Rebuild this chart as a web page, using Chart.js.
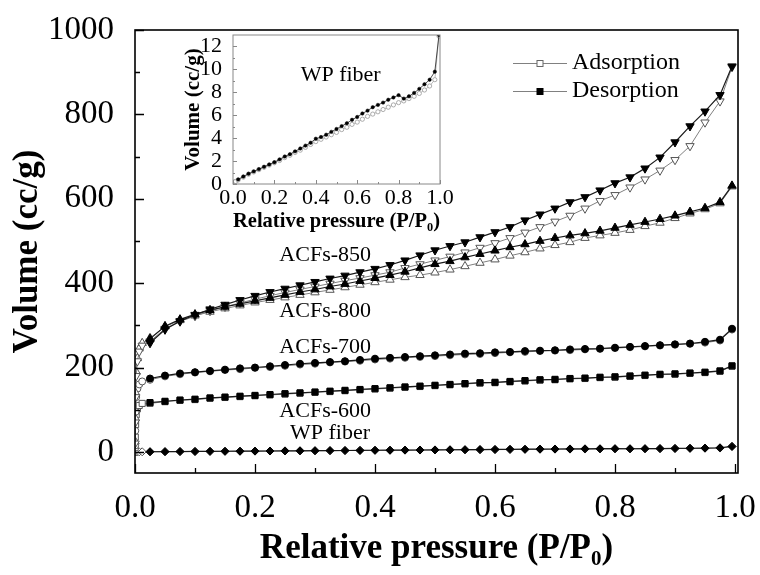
<!DOCTYPE html>
<html>
<head>
<meta charset="utf-8">
<script src="https://cdn.jsdelivr.net/npm/chart.js@4.4.1/dist/chart.umd.min.js"></script>
<style>
  html, body { margin: 0; padding: 0; background: #ffffff; }
  #wrap { position: relative; width: 760px; height: 575px; overflow: hidden; background:#fff; }
  #main { position: absolute; left: 0; top: 0; }
  #inset { position: absolute; left: 170px; top: 25px; }
</style>
</head>
<body>
<div id="wrap">
  <canvas id="main" width="760" height="575"></canvas>
  <canvas id="inset" width="290" height="215"></canvas>
</div>
<script>
// ---------------- DATA ----------------
const SAMPLES = ['ACFs-850', 'ACFs-800', 'ACFs-700', 'ACFs-600', 'WP fiber'];
const BRANCHES = ['Adsorption', 'Desorption'];

// relative pressure grid (P/P0)
const P_GRID = [0.025,0.05,0.075,0.1,0.125,0.15,0.175,0.2,0.225,0.25,0.275,0.3,0.325,0.35,0.375,0.4,
  0.425,0.45,0.475,0.5,0.525,0.55,0.575,0.6,0.625,0.65,0.675,0.7,0.725,0.75,0.775,0.8,0.825,0.85,
  0.875,0.9,0.925,0.95,0.975,0.995];
const P_LOW = [0.0002,0.0005,0.001,0.002,0.004,0.007,0.012];

// desorption branches (cc/g)
const ACF850_DES = [258,290,310,325,338,349,360,370,379,387,395,403,411,418,426,434,443,454,466,478,
  488,497,509,521,533,549,563,577,592,604,620,637,651,672,698,734,772,807,846,914];
const ACF800_DES = [268,298,314,326,336,344,351,358,365,372,379,385,392,398,405,412,419,427,436,445,
  452,461,469,477,485,492,500,507,513,518,524,531,538,545,552,560,569,578,592,631];
const ACF700_DES = [174,181,186,189,192,195,198,200,203,206,209,211,213,215,218,221,223,225,227,229,
  231,233,234,236,237,239,240,241,243,244,245,247,249,251,253,255,257,261,266,292];
const ACF600_DES = [117,120,123,125,128,130,132,134,136,138,140,142,144,146,148,150,152,154,156,158,
  160,162,164,165,167,169,171,172,174,175,177,178,180,182,184,185,187,189,192,204];
const WP_DES = [0.4,0.65,0.9,1.1,1.3,1.5,1.7,1.9,2.15,2.4,2.6,2.85,3.1,3.35,3.6,3.95,4.1,4.3,4.55,4.8,
  5.05,5.3,5.6,5.85,6.15,6.4,6.7,6.9,7.1,7.35,7.55,7.75,7.45,7.65,7.95,8.3,8.7,9.1,9.8,13.0];

// adsorption branches: low-pressure part + grid part (cc/g)
const ACF850_ADS_LOW = [20,70,130,180,215,238,252];
const ACF850_ADS = [262,292,309,322,334,344,353,362,370,378,385,392,399,406,412,419,426,436,445,454,
  463,473,484,495,507,520,533,546,560,577,595,609,627,646,667,692,725,781,831,912];
const ACF800_ADS_LOW = [25,80,140,190,222,245,258];
const ACF800_ADS = [270,297,312,323,332,340,347,354,360,366,372,378,384,390,396,402,408,414,419,425,
  432,440,448,456,465,473,482,490,497,507,513,519,526,535,543,554,565,575,589,629];
const ACF700_ADS_LOW = [15,50,95,130,150,160,167];
const ACF700_ADS = [171,179,184,188,191,194,196,199,201,204,207,209,212,214,216,219,221,223,225,227,
  229,231,232,234,236,237,239,240,241,243,244,246,248,250,252,254,256,259,264,290];
const ACF600_ADS_LOW = [10,35,65,88,102,110,115];
const ACF600_ADS = [115,119,122,124,127,129,131,133,135,137,139,141,143,145,147,149,151,153,155,157,
  159,161,163,164,166,168,170,171,173,174,176,177,179,181,183,184,186,188,191,203];
const WP_ADS_LOW = [0.05,0.08,0.1,0.12,0.15,0.18,0.22];
const WP_ADS = [0.35,0.6,0.85,1.05,1.25,1.45,1.65,1.85,2.05,2.3,2.5,2.75,2.95,3.2,3.45,3.7,3.9,4.1,4.3,4.5,
  4.75,4.95,5.2,5.4,5.65,5.9,6.1,6.3,6.5,6.7,6.9,7.1,7.25,7.45,7.65,7.9,8.2,8.55,9.1,12.9];

// ticks
const X_TICKS = [0, 0.2, 0.4, 0.6, 0.8, 1.0];
const X_MINOR = [0.1, 0.3, 0.5, 0.7, 0.9];
const Y_TICKS = [0, 200, 400, 600, 800, 1000];
const Y_MINOR = [100, 300, 500, 700, 900];
const IN_X_TICKS = [0, 0.2, 0.4, 0.6, 0.8, 1.0];
const IN_X_MINOR = [0.1, 0.3, 0.5, 0.7, 0.9];
const IN_Y_TICKS = [0, 2, 4, 6, 8, 10, 12];
const IN_Y_MINOR = [1, 3, 5, 7, 9, 11];

// ---------------- BUILD ----------------
const FONT = "'Liberation Serif', 'Times New Roman', serif";
Chart.defaults.font.family = FONT;
Chart.defaults.color = '#000';

const pts = (xs, ys) => xs.map((x, i) => ({x: x, y: ys[i]}));
const P_ADS = P_LOW.concat(P_GRID);

const DES = {'ACFs-850': ACF850_DES, 'ACFs-800': ACF800_DES, 'ACFs-700': ACF700_DES, 'ACFs-600': ACF600_DES, 'WP fiber': WP_DES};
const ADS = {'ACFs-850': ACF850_ADS_LOW.concat(ACF850_ADS), 'ACFs-800': ACF800_ADS_LOW.concat(ACF800_ADS),
  'ACFs-700': ACF700_ADS_LOW.concat(ACF700_ADS), 'ACFs-600': ACF600_ADS_LOW.concat(ACF600_ADS),
  'WP fiber': WP_ADS_LOW.concat(WP_ADS)};

const MARK = {
  'ACFs-850': {pointStyle: 'triangle', rot: 180, r: 4.8},
  'ACFs-800': {pointStyle: 'triangle', rot: 0, r: 4.8},
  'ACFs-700': {pointStyle: 'circle', rot: 0, r: 3.5},
  'ACFs-600': {pointStyle: 'rect', rot: 0, r: 4.3},
  'WP fiber': {pointStyle: 'rectRot', rot: 0, r: 4.0}
};

const datasets = [];
SAMPLES.forEach(s => {
  datasets.push({
    label: s + ' ' + BRANCHES[1], data: pts(P_GRID, DES[s]),
    borderColor: '#1a1a1a', borderWidth: 1.2,
    pointStyle: MARK[s].pointStyle, pointRotation: MARK[s].rot, pointRadius: MARK[s].r,
    pointBackgroundColor: '#000', pointBorderColor: '#000', pointBorderWidth: 1
  });
});
SAMPLES.forEach(s => {
  datasets.push({
    label: s + ' ' + BRANCHES[0], data: pts(P_ADS, ADS[s]),
    borderColor: '#808080', borderWidth: 1,
    pointStyle: MARK[s].pointStyle, pointRotation: MARK[s].rot, pointRadius: MARK[s].r,
    pointBackgroundColor: '#fff', pointBorderColor: '#555', pointBorderWidth: 1
  });
});

function frameTicks(cfg) {
  return {
    id: 'frameTicks',
    afterDatasetsDraw(chart) {
      const {ctx, chartArea: a, scales: {x, y}} = chart;
      ctx.save();
      ctx.strokeStyle = cfg.color;
      ctx.lineWidth = cfg.tickWidth;
      ctx.beginPath();
      const seg = (x1, y1, x2, y2) => { ctx.moveTo(x1, y1); ctx.lineTo(x2, y2); };
      cfg.xMajor.forEach(v => { const p = Math.round(x.getPixelForValue(v)) + 0.5; seg(p, a.bottom, p, a.bottom - cfg.major); });
      cfg.xMinor.forEach(v => { const p = Math.round(x.getPixelForValue(v)) + 0.5; seg(p, a.bottom, p, a.bottom - cfg.minor); });
      cfg.yMajor.forEach(v => { const p = Math.round(y.getPixelForValue(v)) + 0.5; seg(a.left, p, a.left + cfg.major, p); });
      cfg.yMinor.forEach(v => { const p = Math.round(y.getPixelForValue(v)) + 0.5; seg(a.left, p, a.left + cfg.minor, p); });
      ctx.stroke();
      ctx.lineWidth = cfg.frameWidth;
      ctx.strokeRect(a.left, a.top, a.right - a.left, a.bottom - a.top);
      ctx.restore();
    }
  };
}

const annotate = {
  id: 'annotate',
  afterDraw(chart) {
    const {ctx, scales: {x, y}} = chart;
    ctx.save();
    // sample labels
    const LABEL_POS = {'ACFs-850': [0.317, 466], 'ACFs-800': [0.317, 333], 'ACFs-700': [0.317, 248],
      'ACFs-600': [0.317, 97], 'WP fiber': [0.325, 44]};
    ctx.font = "22px " + FONT;
    ctx.fillStyle = '#000';
    ctx.textAlign = 'center';
    ctx.textBaseline = 'middle';
    SAMPLES.forEach(s => {
      ctx.fillText(s, x.getPixelForValue(LABEL_POS[s][0]), y.getPixelForValue(LABEL_POS[s][1]));
    });
    // legend
    const lx = 513, lw = 54, ly = [63, 91];
    BRANCHES.forEach((b, i) => {
      ctx.strokeStyle = '#808080';
      ctx.lineWidth = 1.2;
      ctx.beginPath();
      ctx.moveTo(lx, ly[i] + 0.5); ctx.lineTo(lx + lw, ly[i] + 0.5);
      ctx.stroke();
      ctx.fillStyle = i === 0 ? '#fff' : '#000';
      ctx.strokeStyle = i === 0 ? '#666' : '#000';
      ctx.lineWidth = 1;
      ctx.fillRect(lx + lw / 2 - 3, ly[i] - 2.5, 6, 6);
      ctx.strokeRect(lx + lw / 2 - 3, ly[i] - 2.5, 6, 6);
      ctx.fillStyle = '#000';
      ctx.textAlign = 'left';
      ctx.font = "24px " + FONT;
      ctx.fillText(b, lx + lw + 5, ly[i]);
    });
    ctx.restore();
  }
};

new Chart(document.getElementById('main'), {
  type: 'line',
  data: {datasets: datasets},
  options: {
    responsive: false, animation: false, devicePixelRatio: 1,
    layout: {padding: {left: 0, top: 30, right: 22, bottom: 0}},
    plugins: {legend: {display: false}, tooltip: {enabled: false}},
    elements: {line: {tension: 0}},
    scales: {
      x: {
        type: 'linear', min: 0, max: 1.005,
        grid: {display: false}, border: {display: false},
        afterBuildTicks: s => { s.ticks = X_TICKS.map(v => ({value: v})); },
        afterFit: s => { s.height = 102; s.paddingLeft = 0; s.paddingRight = 0; },
        ticks: {font: {size: 33}, padding: 8, maxRotation: 0, autoSkip: false, callback: v => Number(v).toFixed(1)},
        title: {display: true, text: 'Relative pressure (P/P₀)', font: {size: 35, weight: 'bold'}, padding: {top: 0, bottom: 5}}
      },
      y: {
        type: 'linear', min: -50, max: 1000,
        grid: {display: false}, border: {display: false},
        afterBuildTicks: s => { s.ticks = Y_TICKS.map(v => ({value: v})); },
        afterFit: s => { s.width = 135; s.paddingTop = 0; s.paddingBottom = 0; },
        ticks: {font: {size: 33}, padding: 13, autoSkip: false, callback: v => String(v)},
        title: {display: true, text: 'Volume (cc/g)', font: {size: 35, weight: 'bold'}, padding: {top: 7, bottom: 0}}
      }
    }
  },
  plugins: [frameTicks({color: '#000', tickWidth: 1.3, frameWidth: 1.6, major: 9, minor: 5,
    xMajor: X_TICKS, xMinor: X_MINOR, yMajor: Y_TICKS, yMinor: Y_MINOR}), annotate]
});

// ---------------- INSET ----------------
const insetLabel = {
  id: 'insetLabel',
  afterDraw(chart) {
    const {ctx, scales: {x, y}} = chart;
    ctx.save();
    ctx.font = "22px " + FONT;
    ctx.fillStyle = '#000';
    ctx.textAlign = 'center';
    ctx.textBaseline = 'middle';
    ctx.fillText(SAMPLES[4], x.getPixelForValue(0.52), y.getPixelForValue(9.5));
    ctx.restore();
  }
};

new Chart(document.getElementById('inset'), {
  type: 'line',
  data: {datasets: [
    {label: 'WP fiber ' + BRANCHES[1], data: pts(P_GRID, WP_DES), borderColor: '#222', borderWidth: 0.8,
      pointStyle: 'circle', pointRadius: 1.7, pointBackgroundColor: '#000', pointBorderColor: '#000', pointBorderWidth: 0.5},
    {label: 'WP fiber ' + BRANCHES[0], data: pts(P_ADS, WP_ADS_LOW.concat(WP_ADS)), borderColor: '#aaa', borderWidth: 0.8,
      pointStyle: 'circle', pointRadius: 2.1, pointBackgroundColor: '#fff', pointBorderColor: '#999', pointBorderWidth: 0.8}
  ]},
  options: {
    responsive: false, animation: false, devicePixelRatio: 1,
    layout: {padding: {left: 0, top: 10, right: 20, bottom: 0}},
    plugins: {legend: {display: false}, tooltip: {enabled: false}},
    elements: {line: {tension: 0}},
    scales: {
      x: {
        type: 'linear', min: 0, max: 1.0,
        grid: {display: false}, border: {display: false},
        afterBuildTicks: s => { s.ticks = IN_X_TICKS.map(v => ({value: v})); },
        afterFit: s => { s.height = 56; s.paddingLeft = 0; s.paddingRight = 0; },
        ticks: {font: {size: 22}, padding: -7, maxRotation: 0, autoSkip: false, callback: v => Number(v).toFixed(1)},
        title: {display: true, text: 'Relative pressure (P/P₀)', font: {size: 21, weight: 'bold'}, padding: {top: 0, bottom: 6}}
      },
      y: {
        type: 'linear', min: 0, max: 13,
        grid: {display: false}, border: {display: false},
        afterBuildTicks: s => { s.ticks = IN_Y_TICKS.map(v => ({value: v})); },
        afterFit: s => { s.width = 63; s.paddingTop = 0; s.paddingBottom = 0; },
        ticks: {font: {size: 22}, padding: 3, autoSkip: false},
        title: {display: true, text: 'Volume (cc/g)', font: {size: 21, weight: 'bold'}, padding: {top: 11, bottom: 0}}
      }
    }
  },
  plugins: [frameTicks({color: '#888', tickWidth: 1, frameWidth: 1, major: 4, minor: 2,
    xMajor: IN_X_TICKS, xMinor: IN_X_MINOR, yMajor: IN_Y_TICKS, yMinor: IN_Y_MINOR}), insetLabel]
});
</script>
</body>
</html>
